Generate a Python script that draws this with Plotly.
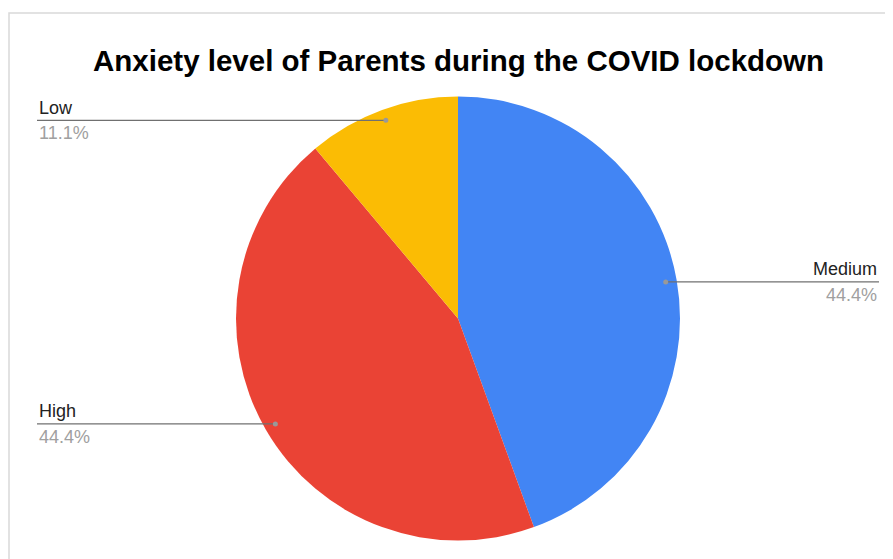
import math
import plotly.graph_objects as go

categories = ["Medium", "High", "Low"]
values = [4, 4, 1]
colors = ["#4285F4", "#EA4335", "#FBBC04"]
title = "Anxiety level of Parents during the COVID lockdown"

W, H = 893, 559
OFF = 8  # page body margin offset
cx, cy, R = 458, 318.5, 222

def px(x):
    return (x - OFF) / W

def py(y):
    return 1 - (y - OFF) / H

FONT = "Liberation Sans, Arial"

fig = go.Figure(go.Pie(
    labels=categories, values=values, sort=False, direction="clockwise",
    rotation=0, marker=dict(colors=colors, line=dict(width=0)),
    textinfo="none", hoverinfo="label+percent", showlegend=False,
    domain=dict(x=[px(cx - R), px(cx + R)], y=[py(cy + R), py(cy - R)]),
))

shapes = []
annotations = []
total = sum(values)
cum = 0
for cat, v in zip(categories, values):
    mid = (cum + v / 2) / total * 2 * math.pi
    cum += v
    r = 0.95 * R
    dx = cx + r * math.sin(mid)
    dy = cy - r * math.cos(mid)
    pct = f"{v / total * 100:.1f}%"
    if math.sin(mid) >= 0:
        x0, x1, tx, anchor = dx, 879, 879, "right"
    else:
        x0, x1, tx, anchor = 37, dx, 37, "left"
    shapes.append(dict(type="line", xref="paper", yref="paper",
                       x0=px(x0), x1=px(x1), y0=py(dy), y1=py(dy),
                       line=dict(color="#707070", width=1.2)))
    shapes.append(dict(type="circle", xref="paper", yref="paper",
                       x0=px(dx - 2.5), x1=px(dx + 2.5), y0=py(dy + 2.5), y1=py(dy - 2.5),
                       fillcolor="#999999", line=dict(width=0)))
    annotations.append(dict(xref="paper", yref="paper", x=px(tx), y=py(dy - 12.5),
                            text=cat, showarrow=False, xanchor=anchor, yanchor="middle",
                            font=dict(family=FONT, size=18, color="#222222")))
    annotations.append(dict(xref="paper", yref="paper", x=px(tx), y=py(dy + 13),
                            text=pct, showarrow=False, xanchor=anchor, yanchor="middle",
                            font=dict(family=FONT, size=18, color="#a0a0a0")))

shapes.append(dict(type="rect", xref="paper", yref="paper",
                   x0=px(9), x1=px(W + 20), y0=py(H + 20), y1=py(13),
                   line=dict(color="#d9d9d9", width=1.5), layer="below"))

annotations.append(dict(xref="paper", yref="paper", x=px(458), y=py(61), text=f"<b>{title}</b>",
                        showarrow=False, xanchor="center", yanchor="middle",
                        font=dict(family=FONT, size=29.5, color="#000000")))

fig.update_layout(width=W, height=H, margin=dict(l=0, r=0, t=0, b=0),
                  paper_bgcolor="white", plot_bgcolor="white",
                  shapes=shapes, annotations=annotations)
fig.write_html("out.html")
